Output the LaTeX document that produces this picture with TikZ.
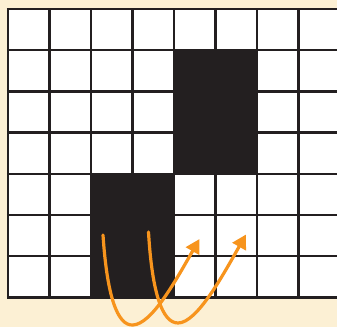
\documentclass[tikz,border=0pt]{standalone}
\usetikzlibrary{arrows.meta}
\definecolor{cream}{HTML}{FCF0D4}
\definecolor{ink}{HTML}{231F20}
\definecolor{orangearr}{HTML}{F7941D}
\tikzset{
  gridline/.style={ink, line width=2.3pt},
  cellblack/.style={fill=ink},
  swaparrow/.style={orangearr, line width=3.2pt, line cap=round, -{Triangle[length=14pt,width=15pt]}}
}
\begin{document}
\begin{tikzpicture}[x=1pt,y=-1pt]
\useasboundingbox (0,0) rectangle (337,327);
\clip (0,0) rectangle (337,327);
\fill[cream] (0,0) rectangle (337,327);
\fill[white] (8,9) rectangle (340,297.5);
\fill[cellblack] (174,50.2) rectangle (257,173.9);
\fill[cellblack] (91,173.9) rectangle (174,297.5);
\foreach \i in {0,...,8}{
  \draw[gridline] ({8+41.5*\i},9) -- ({8+41.5*\i},297.5);
}
\foreach \j in {0,...,7}{
  \draw[gridline] (6.85,{9+41.21*\j}) -- (340,{9+41.21*\j});
}
\coordinate (s1) at (103,235);
\coordinate (b1) at (133,325);
\coordinate (t1) at (199.5,239);
\coordinate (s2) at (148.5,232);
\coordinate (b2) at (178,323);
\coordinate (t2) at (246,234.5);
\draw[swaparrow] (s1) .. controls (107,295) and (117,326) .. (b1) .. controls (152,324) and (176,280) .. (t1);
\draw[swaparrow] (s2) .. controls (152,292) and (162,323) .. (b2) .. controls (197,323) and (223,275) .. (t2);
\end{tikzpicture}
\end{document}
